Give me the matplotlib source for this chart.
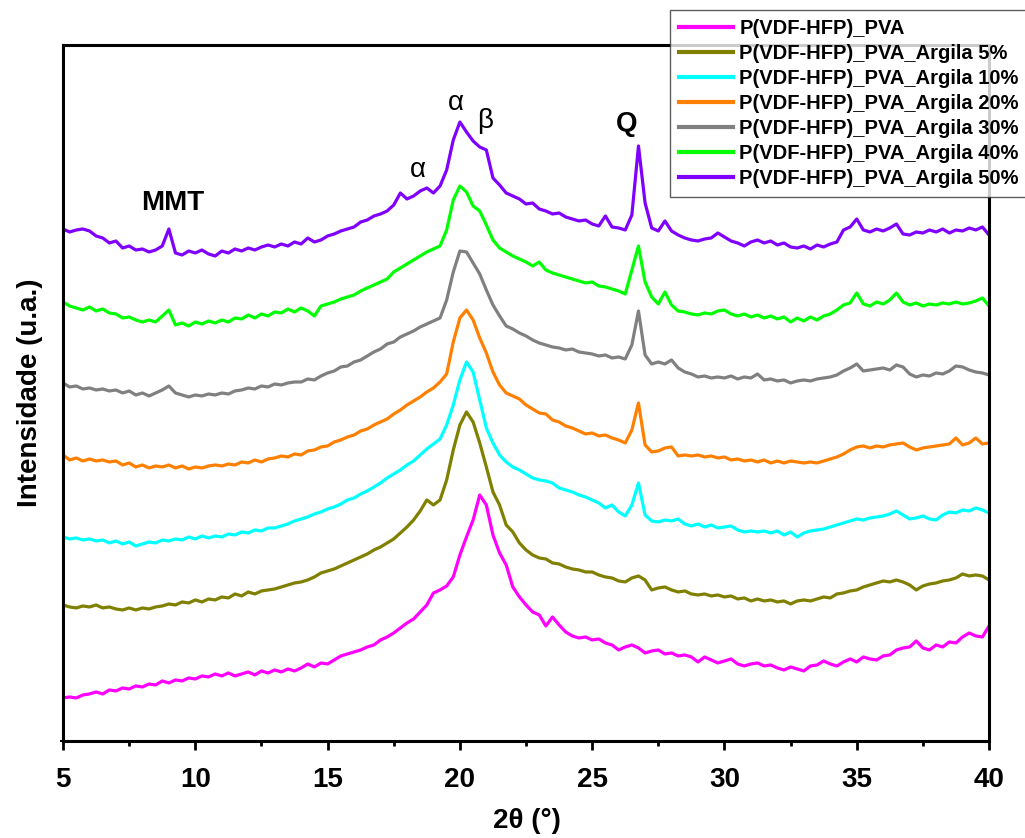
import numpy as np
import matplotlib
matplotlib.use("Agg")
import matplotlib.pyplot as plt

plt.rcParams['font.family'] = ['Liberation Sans', 'DejaVu Sans']
plt.rcParams['font.weight'] = 'bold'

# 2theta grid (degrees), 0.25 step
two_theta = np.arange(5.0, 40.01, 0.25)

labels = ['P(VDF-HFP)_PVA', 'P(VDF-HFP)_PVA_Argila 5%', 'P(VDF-HFP)_PVA_Argila 10%',
          'P(VDF-HFP)_PVA_Argila 20%', 'P(VDF-HFP)_PVA_Argila 30%',
          'P(VDF-HFP)_PVA_Argila 40%', 'P(VDF-HFP)_PVA_Argila 50%']
colors = ['#FF00FF', '#808000', '#00FFFF', '#FF8000', '#808080', '#00FF00', '#8000FF']

# stacked intensities (a.u., offsets included)
pva = [43, 44, 43, 46, 47, 49, 47, 51, 50, 53, 52, 55, 54, 57, 56, 60,
       58, 61, 60, 63, 62, 65, 64, 67, 65, 68, 65, 67, 69, 66, 70, 68,
       71, 69, 72, 70, 73, 77, 74, 78, 77, 81, 85, 87, 89, 91, 94, 96,
       101, 104, 108, 113, 118, 122, 129, 136, 148, 151, 155, 164,
       186, 204, 221, 246, 236, 206, 188, 176, 154, 144, 136, 129,
       126, 115, 124, 116, 109, 105, 103, 104, 101, 102, 98, 96,
       91, 94, 96, 93, 88, 90, 91, 87, 88, 85, 86, 84, 79, 84, 81, 78,
       80, 82, 77, 75, 77, 78, 75, 76, 73, 71, 74, 72, 70, 75, 76, 80,
       77, 75, 79, 82, 79, 84, 82, 81, 85, 86, 91, 93, 94, 100, 93, 91,
       96, 94, 99, 98, 104, 108, 105, 104, 115]
argila5 = [136, 134, 133, 135, 134, 136, 133, 134, 132, 131, 133, 131,
           133, 132, 134, 135, 137, 136, 139, 138, 141, 139, 142, 141,
           144, 143, 147, 145, 149, 147, 150, 151, 152, 154, 156, 158,
           159, 161, 164, 168, 170, 172, 175, 178, 181, 184, 187, 191,
           194, 198, 202, 208, 214, 221, 230, 241, 236, 241, 261, 291,
           316, 329, 319, 298, 274, 249, 236, 216, 209, 198, 191, 186,
           183, 182, 178, 177, 174, 172, 171, 169, 169, 166, 164, 163,
           160, 159, 163, 165, 161, 151, 153, 154, 151, 149, 150, 147,
           146, 147, 145, 146, 144, 145, 142, 143, 140, 142, 140, 141,
           139, 140, 137, 140, 141, 140, 142, 144, 143, 147, 148, 150,
           151, 154, 156, 158, 160, 159, 161, 159, 156, 151, 155, 157,
           158, 160, 161, 163, 167, 165, 166, 165, 161]
argila10 = [204, 202, 203, 201, 202, 200, 201, 198, 200, 197, 199, 195,
            197, 199, 198, 201, 200, 202, 201, 204, 202, 205, 203, 205,
            204, 207, 206, 209, 208, 211, 210, 213, 213, 215, 217, 220,
            222, 224, 227, 229, 232, 234, 237, 241, 243, 247, 250, 254,
            258, 263, 267, 271, 276, 280, 286, 292, 297, 302, 316, 336,
            361, 379, 369, 341, 313, 298, 286, 279, 274, 271, 267, 263,
            261, 260, 258, 253, 251, 249, 246, 244, 241, 238, 233, 236,
            229, 225, 236, 258, 226, 220, 219, 221, 220, 222, 217, 215,
            217, 214, 216, 213, 214, 215, 211, 209, 210, 209, 210, 208,
            210, 206, 209, 204, 208, 210, 211, 212, 214, 216, 218, 220,
            222, 221, 223, 224, 225, 227, 230, 226, 222, 223, 225, 222,
            221, 226, 229, 228, 231, 230, 233, 231, 228]
argila20 = [286, 281, 283, 280, 282, 280, 281, 279, 280, 276, 278, 274,
            276, 273, 275, 274, 276, 273, 275, 272, 274, 273, 275, 276,
            275, 277, 276, 279, 278, 281, 279, 282, 283, 285, 284, 287,
            286, 290, 291, 294, 295, 299, 301, 304, 306, 310, 312, 316,
            319, 322, 327, 331, 336, 340, 344, 349, 353, 359, 367, 399,
            423, 431, 421, 403, 388, 369, 356, 348, 345, 342, 336, 332,
            328, 327, 321, 319, 315, 313, 310, 307, 308, 305, 306, 303,
            301, 298, 311, 338, 296, 289, 290, 293, 294, 285, 286, 285,
            286, 284, 285, 283, 284, 281, 282, 280, 281, 279, 281, 278,
            280, 278, 280, 279, 278, 279, 278, 280, 282, 284, 287, 291,
            294, 295, 293, 295, 294, 296, 297, 298, 294, 291, 293, 294,
            295, 296, 297, 303, 296, 298, 303, 297, 298]
argila30 = [358, 354, 355, 352, 353, 351, 352, 350, 351, 348, 350, 346,
            348, 345, 348, 351, 355, 348, 346, 344, 346, 345, 347, 346,
            348, 347, 350, 351, 353, 352, 355, 354, 357, 356, 358, 359,
            359, 362, 361, 365, 368, 370, 374, 375, 379, 381, 385, 389,
            392, 397, 399, 404, 407, 410, 414, 417, 420, 423, 441, 469,
            490, 489, 478, 467, 451, 436, 425, 415, 412, 408, 405, 401,
            398, 396, 394, 393, 391, 392, 389, 388, 387, 385, 386, 383,
            384, 382, 396, 430, 386, 377, 379, 377, 381, 373, 369, 367,
            364, 365, 363, 364, 363, 365, 362, 364, 363, 367, 361, 362,
            360, 361, 358, 360, 361, 360, 362, 363, 364, 366, 370, 373,
            377, 370, 371, 372, 373, 371, 376, 374, 367, 364, 366, 365,
            368, 367, 370, 375, 374, 371, 369, 368, 366]
argila40 = [439, 435, 433, 431, 434, 430, 432, 428, 427, 423, 424, 421,
            419, 421, 419, 425, 431, 416, 418, 415, 419, 417, 420, 418,
            421, 419, 423, 422, 426, 423, 427, 425, 429, 428, 432, 429,
            433, 430, 425, 435, 437, 439, 442, 444, 446, 450, 453, 456,
            459, 462, 469, 473, 477, 481, 485, 489, 492, 495, 511, 541,
            555, 549, 535, 530, 516, 501, 493, 489, 485, 482, 479, 475,
            479, 471, 468, 466, 464, 462, 460, 458, 459, 455, 454, 452,
            450, 447, 471, 495, 459, 444, 437, 449, 436, 430, 429, 427,
            426, 428, 427, 430, 431, 427, 425, 427, 424, 426, 423, 425,
            422, 424, 419, 423, 420, 424, 421, 425, 427, 431, 436, 438,
            448, 437, 435, 439, 437, 441, 448, 439, 436, 438, 435, 437,
            436, 438, 437, 439, 437, 438, 440, 443, 435]
argila50 = [512, 509, 511, 512, 510, 505, 503, 498, 500, 493, 495, 491,
            492, 489, 491, 495, 512, 488, 486, 490, 488, 491, 487, 485,
            490, 488, 492, 490, 493, 491, 494, 496, 494, 497, 495, 499,
            497, 503, 499, 501, 505, 507, 510, 512, 514, 519, 521, 525,
            527, 530, 536, 548, 542, 545, 550, 553, 548, 555, 571, 601,
            619, 609, 600, 594, 591, 563, 556, 548, 545, 542, 537, 538,
            532, 530, 527, 528, 524, 522, 520, 521, 517, 515, 525, 514,
            513, 511, 526, 595, 538, 513, 510, 520, 510, 506, 503, 501,
            500, 502, 503, 508, 504, 500, 498, 495, 499, 501, 498, 500,
            496, 498, 494, 493, 495, 492, 496, 494, 497, 499, 511, 514,
            522, 511, 509, 512, 510, 513, 517, 507, 506, 509, 508, 511,
            509, 512, 508, 511, 510, 513, 511, 514, 506]

series = [pva, argila5, argila10, argila20, argila30, argila40, argila50]

fig = plt.figure(figsize=(10.25, 8.38), dpi=100)
ax = fig.add_axes([0.0615, 0.1158, 0.9034, 0.8305])

for y, c, lab in zip(series, colors, labels):
    ax.plot(two_theta, y, color=c, lw=2.3, label=lab)

ax.set_xlim(5, 40)
ax.set_ylim(0, 696)
ax.set_xticks([5, 10, 15, 20, 25, 30, 35, 40])
ax.set_xticks(np.arange(7.5, 40, 5), minor=True)
ax.set_yticks([0])
ax.set_yticklabels([])
ax.tick_params(axis='x', which='major', direction='out', length=6.5, width=2,
               labelsize=20, pad=12)
ax.tick_params(axis='x', which='minor', direction='out', length=3.5, width=2)
ax.tick_params(axis='y', length=2, width=1.5)
for lab in ax.get_xticklabels():
    lab.set_fontweight('bold')
for s in ax.spines.values():
    s.set_linewidth(2.2)

fig.text(527 / 1025, 1 - 821 / 838, '2θ (°)', ha='center', va='center',
         fontsize=20, fontweight='bold')
fig.text(30 / 1025, 1 - 393 / 838, 'Intensidade (u.a.)', ha='center', va='center',
         rotation=90, fontsize=20, fontweight='bold')

ax.text(9.16, 538, 'MMT', ha='center', va='center', fontsize=20, fontweight='bold')
ax.text(26.32, 617, 'Q', ha='center', va='center', fontsize=20, fontweight='bold')
ax.text(18.42, 571, 'α', ha='center', va='center', fontsize=20, fontweight='normal')
ax.text(19.85, 638, 'α', ha='center', va='center', fontsize=20, fontweight='normal')
ax.text(20.95, 620, 'β', ha='center', va='center', fontsize=20, fontweight='normal')

leg = fig.legend(loc='upper left', bbox_to_anchor=(670 / 1025, 1 - 10 / 838),
                 fontsize=14.5, frameon=True, fancybox=False, handlelength=2.7,
                 handletextpad=0.3, labelspacing=0.3, borderpad=0.45,
                 borderaxespad=0)
leg.get_frame().set_edgecolor('#333333')
leg.get_frame().set_linewidth(1.0)
for t in leg.get_texts():
    t.set_fontweight('bold')
for h in leg.get_lines():
    h.set_linewidth(3)

fig.savefig('out.png', dpi=100)
